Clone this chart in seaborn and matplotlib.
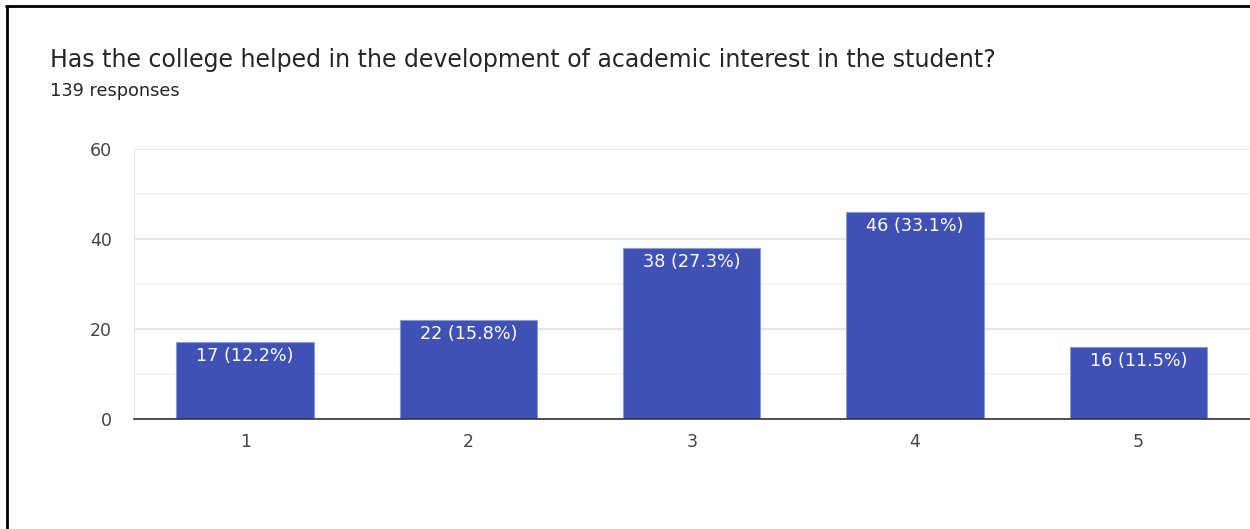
import numpy as np
import pandas as pd
import matplotlib
matplotlib.use('Agg')
import matplotlib.pyplot as plt
import seaborn as sns

# survey data
ratings = ['1', '2', '3', '4', '5']
counts = [17, 22, 38, 46, 16]
percents = [12.2, 15.8, 27.3, 33.1, 11.5]
total_responses = 139
question = 'Has the college helped in the development of academic interest in the student?'

df = pd.DataFrame({'rating': ratings, 'count': counts})

sns.set_style('white')
plt.rcParams['font.family'] = ['DejaVu Sans']

fig = plt.figure(figsize=(12.5, 5.29), dpi=100)
ax = fig.add_axes([0.1068, 0.208, 0.8932, 0.5104])

sns.barplot(data=df, x='rating', y='count', color='#3F51B5', saturation=1,
            width=0.615, edgecolor='#8c99dc', linewidth=0.8, ax=ax)

for i, (c, p) in enumerate(zip(counts, percents)):
    ax.annotate(f'{c} ({p}%)', (i, c), xytext=(0, -10), textcoords='offset points',
                ha='center', va='center', color='white', fontsize=12.7)

ax.set_ylim(0, 60)
ax.set_xlim(-0.5, 4.5)
ax.set_yticks([0, 20, 40, 60])
ax.set_yticks([10, 30, 50], minor=True)
ax.grid(True, which='major', axis='y', color='#e2e2e2', lw=1.2)
ax.grid(True, which='minor', axis='y', color='#f2f2f2', lw=1.2)
ax.set_axisbelow(True)
ax.tick_params(axis='both', which='both', length=0, labelsize=12.5, colors='#444444')
ax.tick_params(axis='y', pad=15.5)
ax.tick_params(axis='x', pad=10)
ax.set_xlabel('')
ax.set_ylabel('')
for s in ['top', 'right']:
    ax.spines[s].set_visible(False)
ax.spines['left'].set_color('#e6e6e6')
ax.spines['bottom'].set_color('#333333')
ax.spines['bottom'].set_linewidth(1.2)

fig.text(0.04, 0.874, question, fontsize=17, color='#262626')
fig.text(0.04, 0.818, f'{total_responses} responses', fontsize=12.8, color='#262626')

# screenshot frame
fig.add_artist(plt.Line2D([0.005, 1.0], [0.988, 0.988], color='black', lw=2,
                          transform=fig.transFigure))
fig.add_artist(plt.Line2D([0.0055, 0.0055], [0.0, 0.988], color='black', lw=2,
                          transform=fig.transFigure))

fig.savefig('out.png', dpi=100, facecolor='white')
